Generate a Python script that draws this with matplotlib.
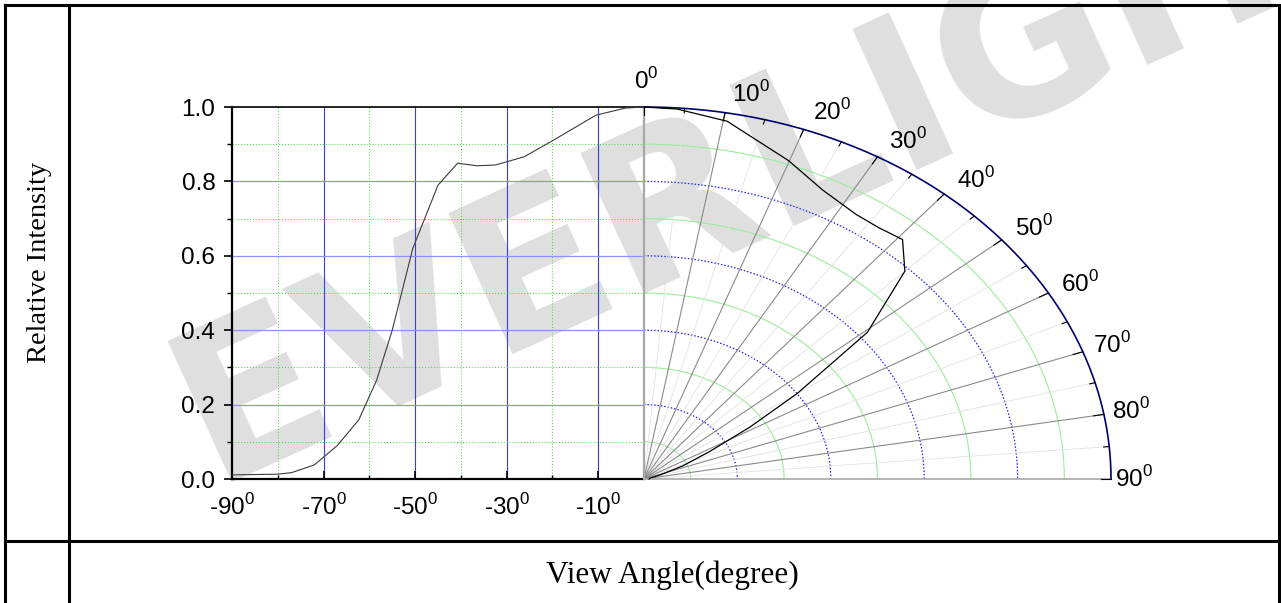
import numpy as np
import matplotlib
matplotlib.use("Agg")
import matplotlib.pyplot as plt
from matplotlib.lines import Line2D

plt.rcParams['font.family'] = ['Liberation Sans', 'DejaVu Sans']

# Relative intensity versus view angle (left half; the pattern is symmetric about 0 deg)
angle_deg = [-90, -80, -77, -72, -67, -62.3, -58.4, -55, -50.5, -45, -40.7,
             -36.5, -32.5, -26.2, -19.9, -10.5, -4.1, 0]
intensity = [0.011, 0.013, 0.017, 0.038, 0.09, 0.159, 0.266, 0.40, 0.62, 0.79,
             0.849, 0.842, 0.844, 0.866, 0.91, 0.978, 0.997, 1.0]

x_major = [-90, -70, -50, -30, -10]
x_minor = [-80, -60, -40, -20]
x_labels = [f"{v}$^{{\\mathregular{{0}}}}$" for v in x_major]
y_major = [0.0, 0.2, 0.4, 0.6, 0.8, 1.0]
y_minor = [0.1, 0.3, 0.5, 0.7, 0.9]
y_labels = ["0.0", "0.2", "0.4", "0.6", "0.8", "1.0"]
polar_angles = [0, 10, 20, 30, 40, 50, 60, 70, 80, 90]
polar_labels = [f"{a}$^{{\\mathregular{{0}}}}$" for a in polar_angles]
ring_blue = [0.2, 0.4, 0.6, 0.8]
ring_green = [0.1, 0.3, 0.5, 0.7, 0.9]

W, H = 1281, 603
fig = plt.figure(figsize=(W / 100, H / 100), dpi=100)


def fx(px):
    return px / W


def fy(py):
    return 1 - py / H


X0, XC, X1 = 232, 644, 1111
YT, YB = 107, 479
LABEL_SIZE = 17.5

# watermark
fig.text(fx(212), fy(482), "EVERLIGHT", fontsize=153, fontweight='bold',
         family=['DejaVu Sans'], color='#dfdfdf', rotation=24.5,
         rotation_mode='anchor', ha='left', va='baseline', zorder=-5)

# table frame
frame_lines = [
    ([5, 1279], [5, 5]),
    ([5, 5], [5, 603]),
    ([69, 69], [5, 603]),
    ([1279, 1279], [5, 603]),
    ([5, 1279], [541, 541]),
]
for xs, ys in frame_lines:
    fig.add_artist(Line2D([fx(v) for v in xs], [fy(v) for v in ys],
                          transform=fig.transFigure, color='black', lw=2.2))

fig.text(fx(40), fy(262), "Relative Intensity", rotation=90,
         family=['Liberation Serif'], fontsize=20.5, ha='center', va='center')
fig.text(fx(672), fy(575), "View Angle(degree)",
         family=['Liberation Serif'], fontsize=22.5, ha='center', va='center')

# ---- Cartesian half ----
axl = fig.add_axes([fx(X0), fy(YB), fx(XC) - fx(X0), fy(YT) - fy(YB)])
axl.patch.set_alpha(0)
axl.set_xlim(-90, 0)
axl.set_ylim(0, 1)
for v in x_major[1:]:
    axl.axvline(v, color='#3a3aff', lw=0.8, zorder=1)
for v in ring_blue:
    axl.axhline(v, color='#9090ff', lw=0.9, zorder=1)
for v in x_minor:
    axl.axvline(v, color='#33e033', lw=0.7, ls=(0, (1, 2)), zorder=1)
for v in y_minor:
    axl.axhline(v, color='#33e033', lw=0.7, ls=(0, (1, 2)), zorder=1)
axl.plot(angle_deg, intensity, color='#3c3c3c', lw=0.8, zorder=3)

for s in ('left', 'bottom'):
    axl.spines[s].set_linewidth(1.6)
axl.spines['top'].set_linewidth(1.2)
axl.spines['right'].set_visible(False)

axl.set_xticks(x_major)
axl.set_xticklabels(x_labels)
axl.set_xticks(x_minor, minor=True)
axl.set_yticks(y_major)
axl.set_yticklabels(y_labels)
axl.set_yticks(y_minor, minor=True)
axl.tick_params(axis='x', which='major', direction='in', length=5.5, width=1.2,
                pad=11, labelsize=LABEL_SIZE)
axl.tick_params(axis='x', which='minor', direction='in', length=3, width=1)
axl.tick_params(axis='y', which='major', direction='out', length=6, width=1.2,
                pad=6, labelsize=LABEL_SIZE)
axl.tick_params(axis='y', which='minor', direction='out', length=3.5, width=1)

# ---- polar half (quarter ellipse) ----
axr = fig.add_axes([fx(XC), fy(YB), fx(X1) - fx(XC), fy(YT) - fy(YB)])
axr.patch.set_alpha(0)
axr.set_xlim(0, 1)
axr.set_ylim(0, 1)
axr.axis('off')

th = np.radians(np.linspace(0, 90, 361))
for r in ring_green:
    axr.plot(r * np.sin(th), r * np.cos(th), color='#99ee99', lw=0.8,
             clip_on=False, zorder=1)
for r in ring_blue:
    axr.plot(r * np.sin(th), r * np.cos(th), color='#2020ff', lw=0.9,
             ls=(0, (1.2, 1.5)), clip_on=False, zorder=1)
for a in range(5, 90, 10):
    t = np.radians(a)
    axr.plot([0, np.sin(t)], [0, np.cos(t)], color='#e2e2e2', lw=0.6,
             clip_on=False, zorder=1)
for a in range(10, 90, 10):
    t = np.radians(a)
    axr.plot([0, np.sin(t)], [0, np.cos(t)], color='#8a8a8a', lw=0.8,
             clip_on=False, zorder=2)
axr.plot([0, 0], [0, 1], color='#a8a8a8', lw=1.6, clip_on=False, zorder=2)
axr.plot([0, 1], [0, 0], color='#a8a8a8', lw=1.2, clip_on=False, zorder=2)
axr.plot(np.sin(th), np.cos(th), color='#000070', lw=1.2, clip_on=False, zorder=3)
for a in range(0, 91, 5):
    t = np.radians(a)
    r_in = 0.978 if a % 10 == 0 else 0.988
    axr.plot([r_in * np.sin(t), np.sin(t)], [r_in * np.cos(t), np.cos(t)],
             color='black', lw=0.8, clip_on=False, zorder=3)

t_curve = np.radians(np.abs(angle_deg))
r_curve = np.array(intensity)
axr.plot(r_curve * np.sin(t_curve), r_curve * np.cos(t_curve), color='black',
         lw=0.9, clip_on=False, zorder=4)

for a, lab in zip(polar_angles, polar_labels):
    t = np.radians(a)
    if a == 0:
        lx, ly = 0.005, 1.07
    else:
        lx = 1.05 * np.sin(t) + 0.047 * np.cos(t)
        ly = 1.05 * np.cos(t)
    axr.text(lx, ly, lab, fontsize=LABEL_SIZE, ha='center', va='center',
             clip_on=False)

fig.savefig("out.png", dpi=100)
